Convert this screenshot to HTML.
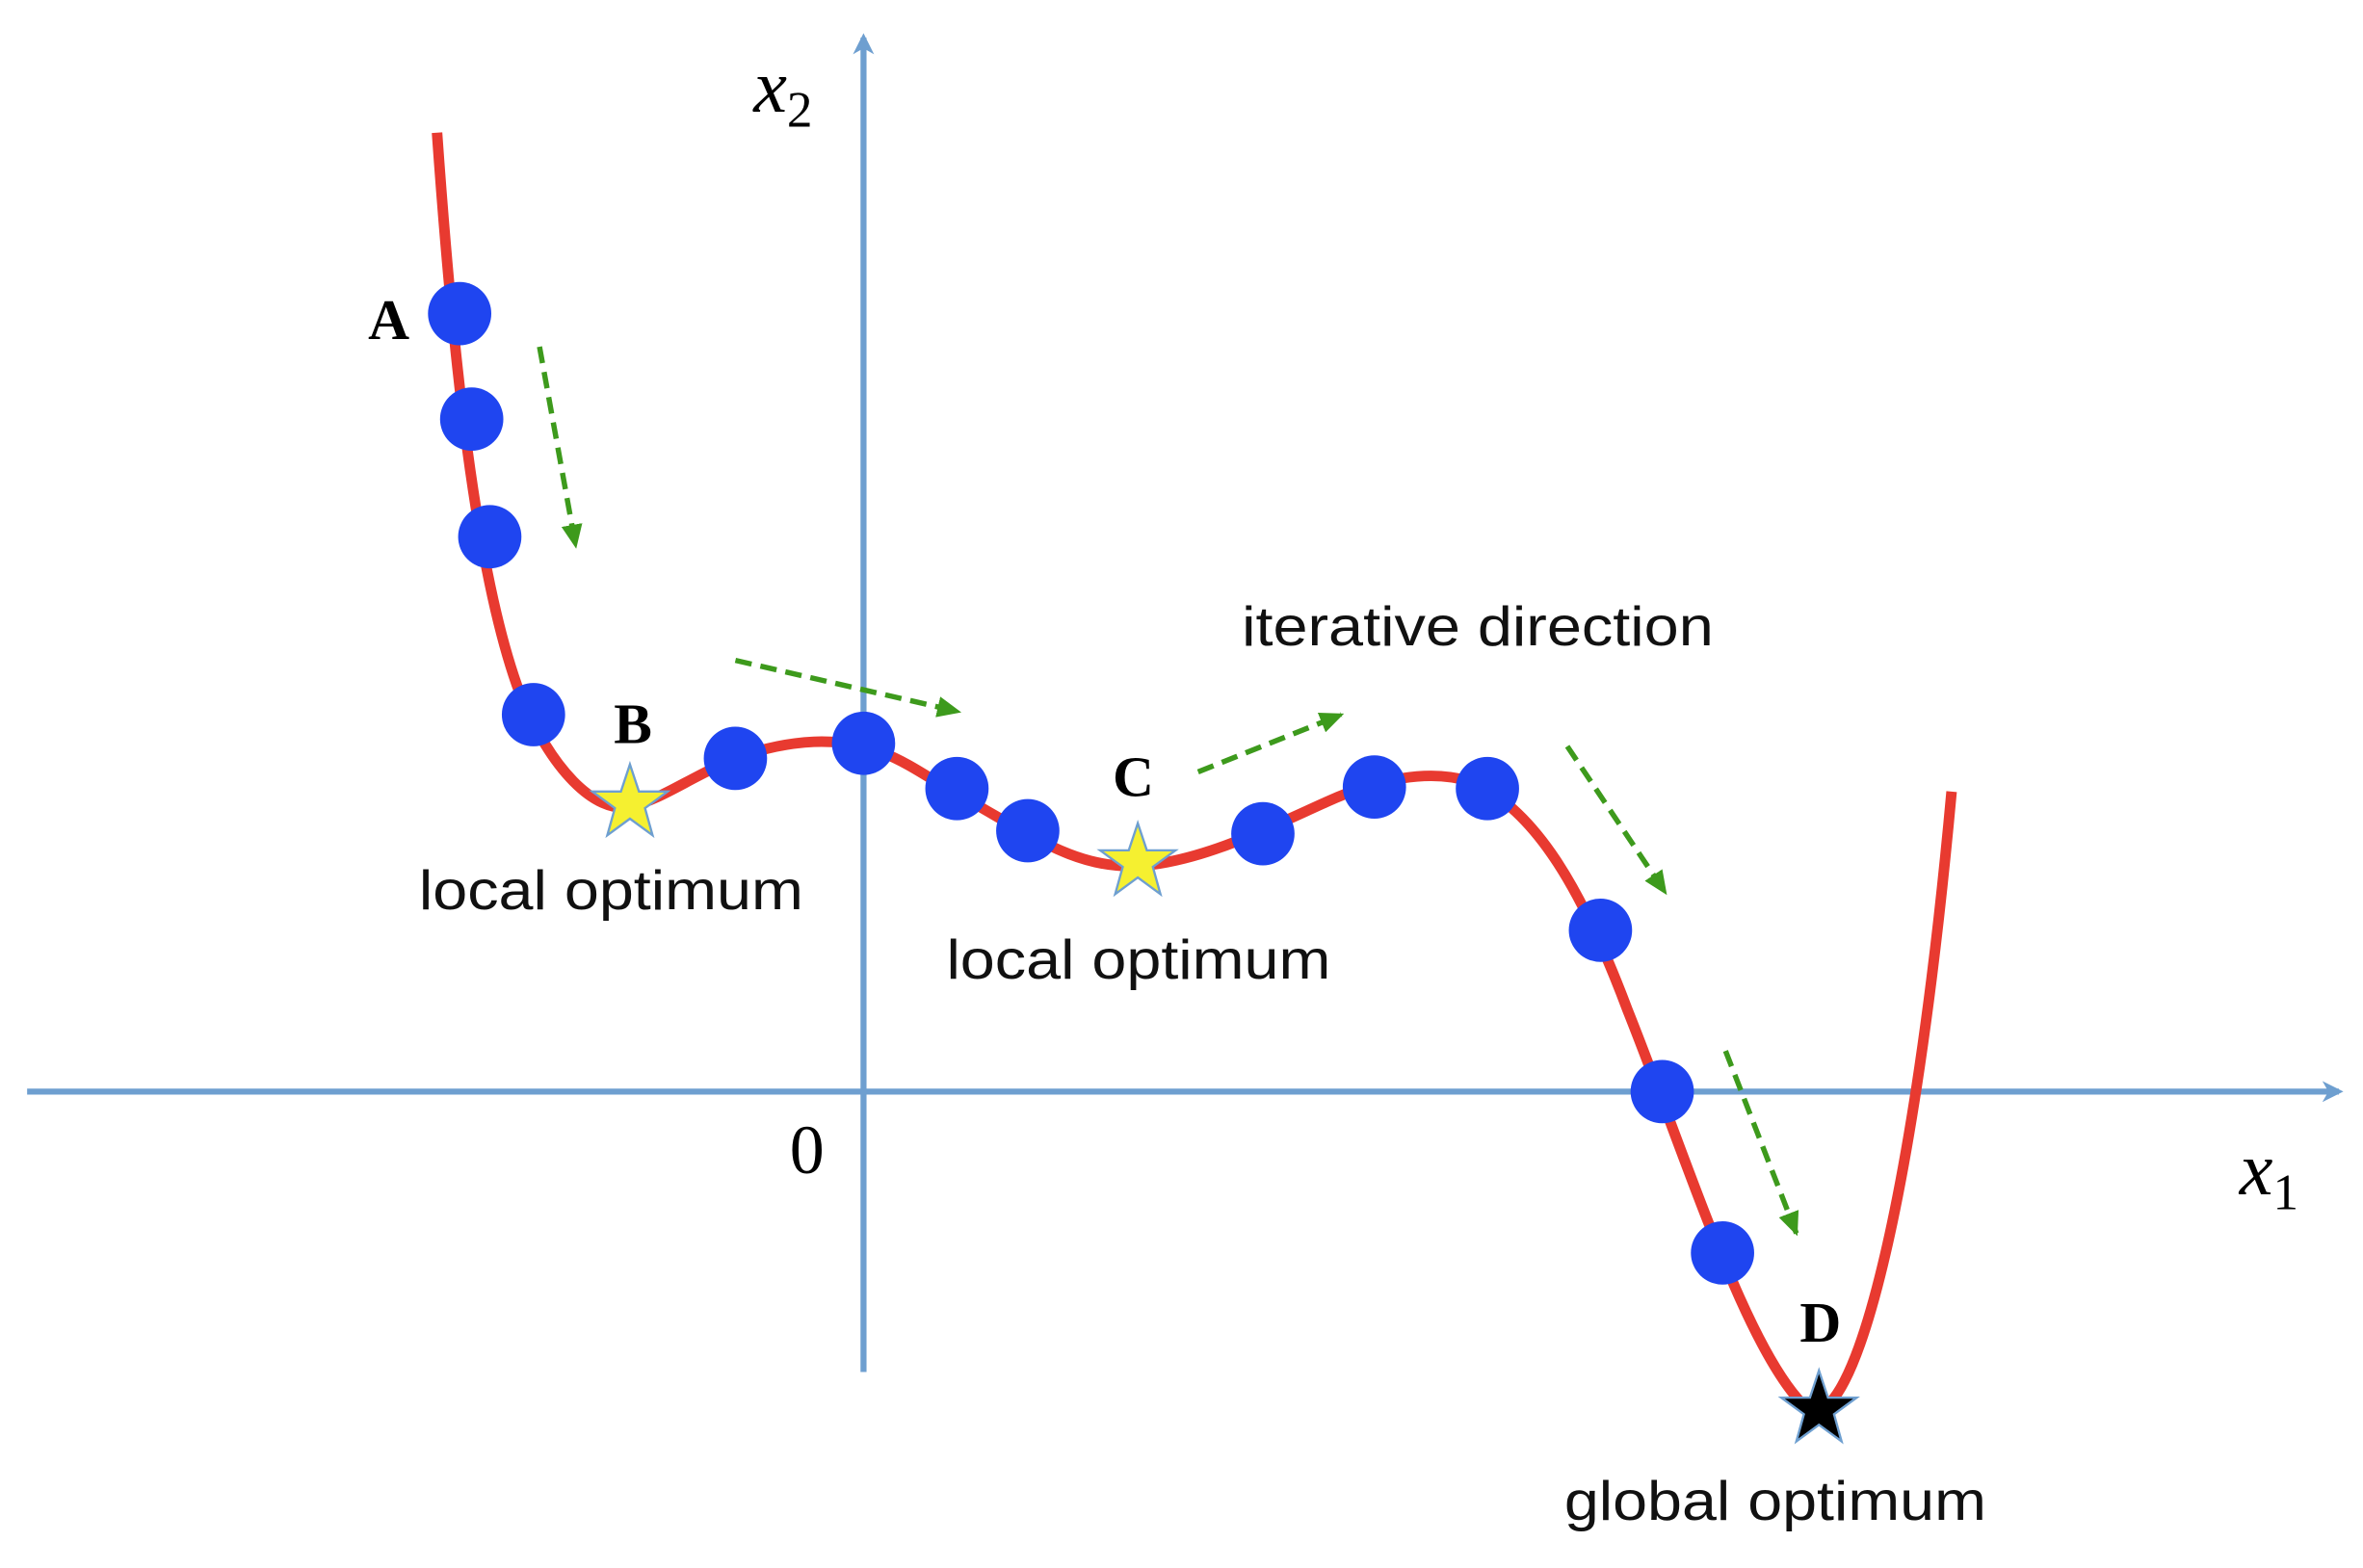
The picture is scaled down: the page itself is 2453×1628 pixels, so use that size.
<!DOCTYPE html>
<html><head><meta charset="utf-8"><style>html,body{margin:0;padding:0;background:#fff}svg{display:block}</style></head>
<body>
<svg width="2453" height="1628" viewBox="0 0 1568 1040" preserveAspectRatio="none" xmlns="http://www.w3.org/2000/svg">
<defs>
<marker id="ax" markerWidth="14" markerHeight="14" refX="11" refY="7" orient="auto" markerUnits="userSpaceOnUse"><path d="M0,0 L14,7 L0,14 L4,7 Z" fill="#6e9fd0"/></marker>
<marker id="ga" markerWidth="16" markerHeight="14" refX="14" refY="7" orient="auto" markerUnits="userSpaceOnUse"><path d="M0,0 L16,7 L0,14 Z" fill="#3d9a1c"/></marker>
</defs>
<line x1="18" y1="724" x2="1552" y2="724" stroke="#6e9fd0" stroke-width="4" marker-end="url(#ax)"/>
<line x1="573" y1="910" x2="573" y2="25" stroke="#6e9fd0" stroke-width="4" marker-end="url(#ax)"/>
<path d="M290,88 C300,230 315,380 345,460 C365,510 395,540 418,535 C450,528 480,495 540,492 C590,490 610,515 650,535 C690,558 720,578 760,574 C800,570 840,550 880,532 C910,518 950,508 980,520 C1020,540 1050,590 1080,670 C1120,770 1160,900 1200,935 C1230,950 1270,800 1295,525" fill="none" stroke="#e83a30" stroke-width="7"/>
<g stroke="#3d9a1c" stroke-width="3.5" stroke-dasharray="11,6" fill="none">
<line x1="358" y1="230" x2="382" y2="362" marker-end="url(#ga)"/>
<line x1="488" y1="438" x2="636" y2="472" marker-end="url(#ga)"/>
<line x1="795" y1="512" x2="890" y2="474" marker-end="url(#ga)"/>
<line x1="1040" y1="495" x2="1105" y2="592" marker-end="url(#ga)"/>
<line x1="1145" y1="697" x2="1192" y2="818" marker-end="url(#ga)"/>
</g>
<g fill="#1f45f0">
<circle cx="305" cy="208" r="21"/><circle cx="313" cy="278" r="21"/><circle cx="325" cy="356" r="21"/><circle cx="354" cy="474" r="21"/>
<circle cx="488" cy="503" r="21"/><circle cx="573" cy="493" r="21"/><circle cx="635" cy="523" r="21"/><circle cx="682" cy="551" r="21"/>
<circle cx="838" cy="553" r="21"/><circle cx="912" cy="522" r="21"/><circle cx="987" cy="523" r="21"/><circle cx="1062" cy="617" r="21"/>
<circle cx="1103" cy="724" r="21"/><circle cx="1143" cy="831" r="21"/>
</g>
<g stroke="#6e9fd0" stroke-width="1.5">
<path transform="translate(418,533)" d="M0,-26 L6,-8 L25,-8 L10,3 L15,21 L0,10 L-15,21 L-10,3 L-25,-8 L-6,-8 Z" fill="#f5f030"/>
<path transform="translate(755,572)" d="M0,-26 L6,-8 L25,-8 L10,3 L15,21 L0,10 L-15,21 L-10,3 L-25,-8 L-6,-8 Z" fill="#f5f030"/>
<path transform="translate(1207,935)" d="M0,-26 L6,-8 L25,-8 L10,3 L15,21 L0,10 L-15,21 L-10,3 L-25,-8 L-6,-8 Z" fill="#000"/>
</g>
<g font-family="Liberation Serif, serif" font-weight="bold" font-size="38" text-anchor="middle" fill="#000">
<text x="258" y="225">A</text><text x="420" y="493">B</text><text x="752" y="528">C</text><text x="1208" y="890">D</text>
</g>
<g font-family="Liberation Sans, sans-serif" font-size="37" fill="#111" lengthAdjust="spacingAndGlyphs">
<text x="278" y="603" textLength="255" lengthAdjust="spacingAndGlyphs">local optimum</text>
<text x="628" y="649" textLength="255" lengthAdjust="spacingAndGlyphs">local optimum</text>
<text x="824" y="428" textLength="313" lengthAdjust="spacingAndGlyphs">iterative direction</text>
<text x="1038" y="1008" textLength="280" lengthAdjust="spacingAndGlyphs">global optimum</text>
</g>
<g font-family="Liberation Serif, serif" fill="#000">
<text x="500" y="74" font-size="50" font-style="italic">x<tspan font-size="34" font-style="normal" dy="10">2</tspan></text>
<text x="1486" y="792" font-size="50" font-style="italic">x<tspan font-size="34" font-style="normal" dy="10">1</tspan></text>
<text x="524" y="778" font-size="46">0</text>
</g>
</svg>
</body></html>
